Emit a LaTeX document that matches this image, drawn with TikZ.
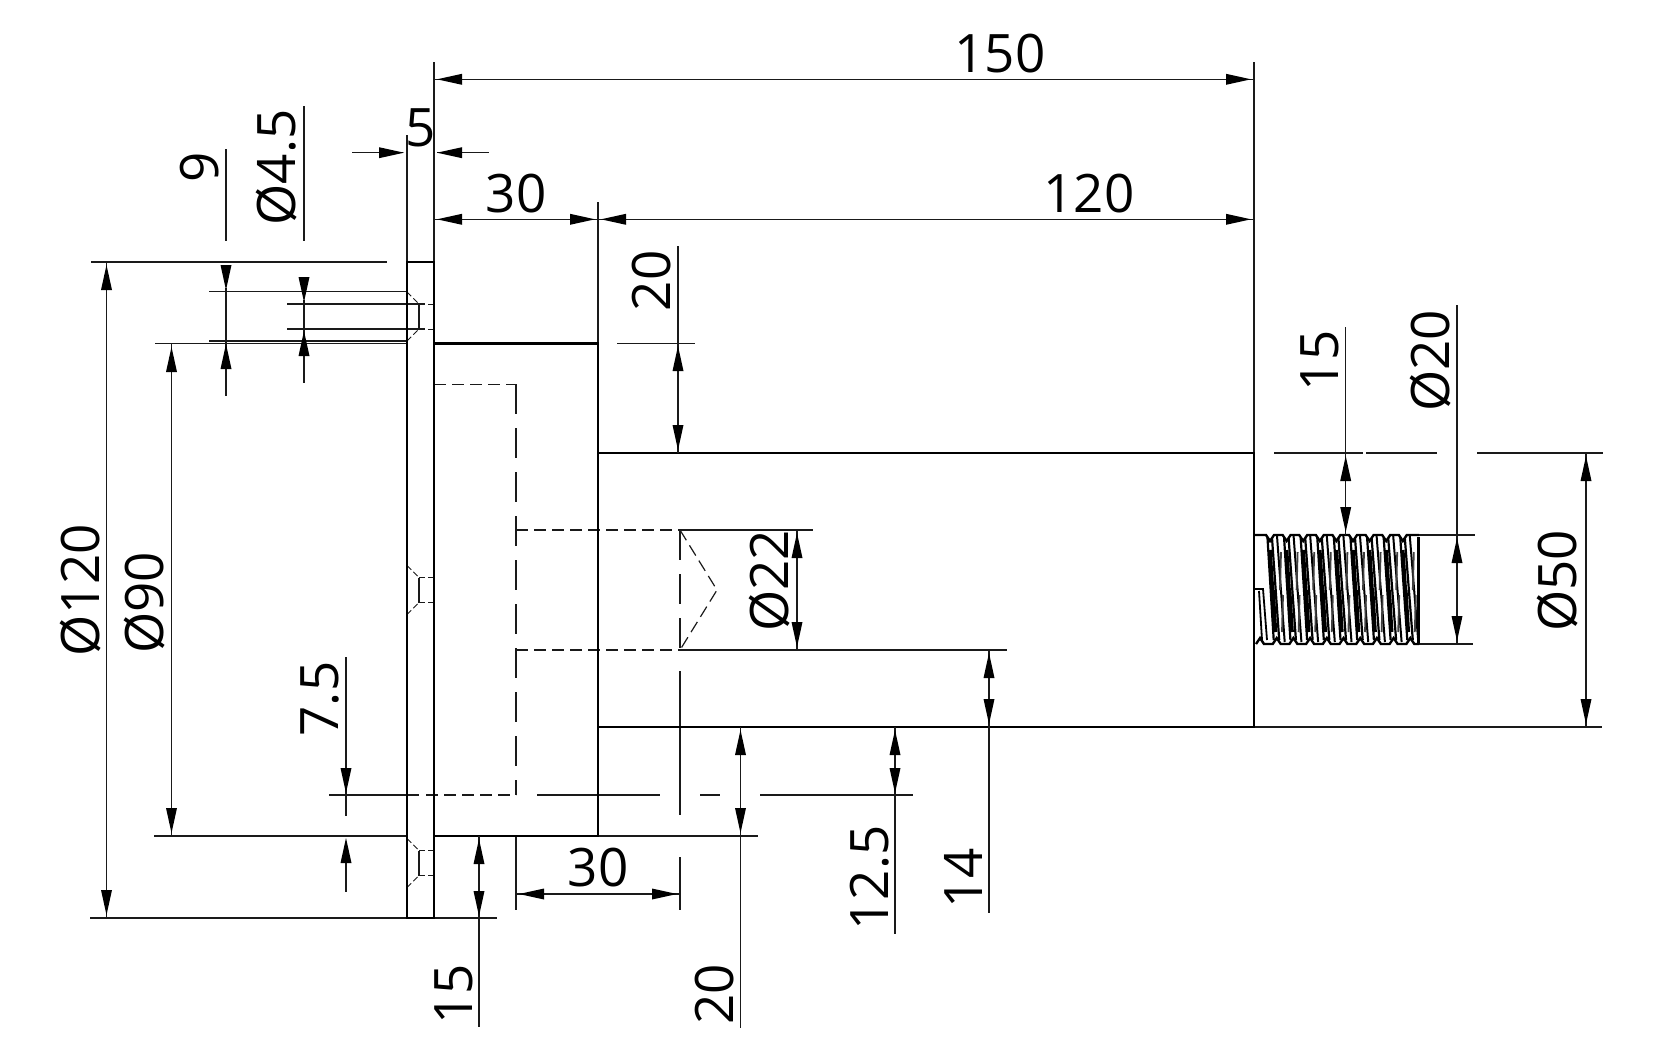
\documentclass[tikz,border=0pt]{standalone}
\usepackage{fontspec}
\setmainfont{Open Sans}
\usetikzlibrary{arrows.meta}
\definecolor{ink}{HTML}{1A1A1A}
\tikzset{
  x=1pt,y=-1pt,
  part/.style={draw=black,line width=2.5pt},
  thin line/.style={draw=ink,line width=1.2pt},
  longdash/.style={draw=ink,line width=1.2pt,dash pattern=on 30pt off 14pt},
  hidden/.style={draw=ink,line width=1.2pt,dash pattern=on 12pt off 6pt},
  holeline/.style={draw=ink,line width=1pt,dash pattern=on 6pt off 3pt},
  tipline/.style={draw=ink,line width=1.2pt,-{Triangle[length=25pt,width=11pt,line width=0pt,color=black,fill=black]}},
  label/.style={inner sep=0pt,text=black,font=\fontsize{53}{60}\selectfont},
  vlabel/.style={label,rotate=90},
}
\newcommand{\tipat}[4]{\draw[tipline] (#1,#2) -- (#3,#4);}
\begin{document}
\begin{tikzpicture}
\useasboundingbox (0,0) rectangle (1664,1058);
\fill[white] (0,0) rectangle (1664,1058);

% extension lines
\draw[thin line] (434,62) -- (434,262);
\draw[thin line] (1254,62) -- (1254,453);
\draw[thin line] (407,135) -- (407,262);
\draw[thin line] (598,202) -- (598,344);
\draw[thin line] (91,262) -- (387,262);
\draw[thin line] (155,343.5) -- (407,343.5);
\draw[thin line] (617,343.5) -- (695,343.5);
\draw[thin line] (209,291.5) -- (407,291.5);
\draw[thin line] (209,341) -- (407,341);
\draw[thin line] (287,304) -- (425,304);
\draw[thin line] (287,329) -- (425,329);
\draw[thin line] (90,918) -- (407,918);
\draw[thin line] (434,918) -- (497,918);
\draw[thin line] (154,836) -- (407,836);
\draw[thin line] (598,836) -- (758,836);
\draw[thin line] (680,530) -- (813,530);
\draw[thin line] (680,650) -- (1007,650);
\draw[thin line] (1254,727) -- (1602,727);
\draw[thin line] (1274,453) -- (1363,453);
\draw[thin line] (1366,453) -- (1437,453);
\draw[thin line] (1477,453) -- (1603,453);
\draw[thin line] (1419,535) -- (1475,535);
\draw[thin line] (1419,644) -- (1473,644);
\draw[thin line] (516,836) -- (516,910);
\draw[thin line] (680,671) -- (680,815);
\draw[thin line] (680,857) -- (680,910);
% centre line with gaps
\draw[thin line] (329,795) -- (419,795);
\draw[thin line] (537,795) -- (660,795);
\draw[thin line] (700,795) -- (720,795);
\draw[thin line] (760,795) -- (913,795);

% hidden lines
\draw[hidden] (434,384.3) -- (516,384.3);
\draw[longdash] (516,384.3) -- (516,795);
\draw[hidden] (426,795) -- (516,795);
\draw[hidden] (516,530) -- (680,530);
\draw[hidden] (516,650) -- (680,650);
\draw[longdash] (680,530) -- (680,650);
\draw[hidden] (680,530) -- (717,590) -- (680,650);

% countersunk holes
\foreach \c in {316.5,590,863}{
  \draw[holeline] (407,\c-24.5) -- (419,\c-12.5);
  \draw[holeline] (407,\c+24.5) -- (419,\c+12.5);
  \draw[holeline] (419,\c-12.5) -- (434,\c-12.5);
  \draw[holeline] (419,\c+12.5) -- (434,\c+12.5);
  \draw[thin line] (419,\c-12.5) -- (419,\c+12.5);
}

% thread
\foreach \i in {0,...,8}{
  \pgfmathsetmacro{\tr}{1270+16.6*\i}
  \pgfmathsetmacro{\br}{1276.7+16.7*\i}
  \draw[black,line width=2.2pt] (\tr-2.5,538) -- (\br-3,640);
  \draw[black,line width=2.2pt] (\tr+2,538) -- (\br+2.5,640);
  \draw[black,line width=2pt] (\tr+7,536) -- (\br+8,642);
  \draw[black!75,line width=1.8pt] (\tr+11,552) -- (\tr+10,590);
  \draw[black!75,line width=1.8pt] (\tr+13,595) -- (\tr+12,632);
  \draw[black,line width=3.5pt] (\tr,550) -- (\tr+2.5,590);
  \draw[black,line width=3.5pt] (\tr+3,590) -- (\tr+5.5,632);
}
\draw[black,line width=2.4pt] (1254,535) -- (1265,535)
  \foreach \i in {0,...,8}{ -- ({1270+16.6*\i-4},535) -- ({1270+16.6*\i},541) -- ({1270+16.6*\i+4},535) }
  -- (1419,535);
\draw[black,line width=2.4pt] (1256,644)
  \foreach \i in {0,...,9}{ -- ({1260+16.7*\i-4},644) -- ({1260+16.7*\i},638) -- ({1260+16.7*\i+4},644) }
  -- (1419,644);
\draw[black,line width=1.8pt] (1254,589) -- (1263,589) -- (1267,640);
\draw[black,line width=1.8pt] (1259,591) -- (1262,640);
\draw[black,line width=3pt] (1418,537) -- (1418,644);

% body
\draw[part] (407,262) rectangle (434,918);
\draw[part] (434,343.5) -- (598,343.5) -- (598,836) -- (434,836);
\draw[part] (598,453) -- (1254,453) -- (1254,727) -- (598,727);
\draw[part] (1254,535) -- (1254,644);

% dimensions: horizontal
\draw[thin line] (434,79.3) -- (1254,79.3);
\tipat{459}{79.3}{437}{79.3} \tipat{1229}{79.3}{1251}{79.3}
\draw[thin line] (434,219.3) -- (1254,219.3);
\tipat{459}{219.3}{437}{219.3} \tipat{573}{219.3}{595}{219.3}
\tipat{623}{219.3}{601}{219.3} \tipat{1229}{219.3}{1251}{219.3}
\draw[thin line] (352,152.7) -- (403,152.7);
\tipat{379}{152.7}{404}{152.7}
\draw[thin line] (437,152.7) -- (489,152.7);
\tipat{462}{152.7}{437}{152.7}
\draw[thin line] (516,894) -- (680,894);
\tipat{541}{894}{519}{894} \tipat{655}{894}{677}{894}

% dimensions: vertical
\draw[thin line] (106.5,262) -- (106.5,918);
\tipat{106.5}{287}{106.5}{265} \tipat{106.5}{893}{106.5}{915}
\draw[thin line] (171.5,344) -- (171.5,836);
\tipat{171.5}{369}{171.5}{347} \tipat{171.5}{811}{171.5}{833}
\draw[thin line] (226,149) -- (226,241);
\draw[thin line] (226,288) -- (226,396);
\tipat{226}{265}{226}{290} \tipat{226}{368}{226}{344}
\draw[thin line] (304,106) -- (304,241);
\draw[thin line] (304,300) -- (304,383);
\tipat{304}{277}{304}{302} \tipat{304}{356}{304}{331}
\draw[thin line] (346,657) -- (346,816);
\tipat{346}{769}{346}{793}
\draw[thin line] (346,861) -- (346,892);
\tipat{346}{862}{346}{838}
\draw[thin line] (479,836) -- (479,1027);
\tipat{479}{863}{479}{839} \tipat{479}{892}{479}{916}
\draw[thin line] (678,246) -- (678,453);
\tipat{678}{369}{678}{346} \tipat{678}{426}{678}{450}
\draw[thin line] (740.5,727) -- (740.5,1028);
\tipat{740.5}{754}{740.5}{730} \tipat{740.5}{809}{740.5}{833}
\draw[thin line] (797,530) -- (797,650);
\tipat{797}{557}{797}{533} \tipat{797}{623}{797}{647}
\draw[thin line] (895,727) -- (895,934);
\tipat{895}{754}{895}{730} \tipat{895}{769}{895}{793}
\draw[thin line] (989,650) -- (989,913);
\tipat{989}{677}{989}{653} \tipat{989}{700}{989}{724}
\draw[thin line] (1345.7,327) -- (1345.7,535);
\tipat{1345.7}{480}{1345.7}{456} \tipat{1345.7}{508}{1345.7}{532}
\draw[thin line] (1457,305) -- (1457,644);
\tipat{1457}{562}{1457}{538} \tipat{1457}{617}{1457}{641}
\draw[thin line] (1586,453) -- (1586,727);
\tipat{1586}{480}{1586}{456} \tipat{1586}{700}{1586}{724}

% labels
\node[label] (t150) at (1000,54) {150};
\node[label] (t120) at (1089,194) {120};
\node[label] (t30a) at (516,194) {30};
\node[label] (t5) at (420.5,128) {5};
\node[label] (t30b) at (598,868) {30};
\node[vlabel] (t9) at (200,167.5) {9};
\node[vlabel] (td45) at (277,167.5) {Ø4.5};
\node[vlabel] (t20a) at (652,281) {20};
\node[vlabel] (td120) at (81,590) {Ø120};
\node[vlabel] (td90) at (145,603) {Ø90};
\node[vlabel] (t75) at (320,699) {7.5};
\node[vlabel] (t15a) at (454,994) {15};
\node[vlabel] (t20b) at (715,994) {20};
\node[vlabel] (t125) at (870,878) {12.5};
\node[vlabel] (t14) at (963,878) {14};
\node[vlabel] (td22) at (770,581) {Ø22};
\node[vlabel] (t15b) at (1320,361) {15};
\node[vlabel] (td20) at (1431,361) {Ø20};
\node[vlabel] (td50) at (1558,581) {Ø50};
\end{tikzpicture}
\end{document}
